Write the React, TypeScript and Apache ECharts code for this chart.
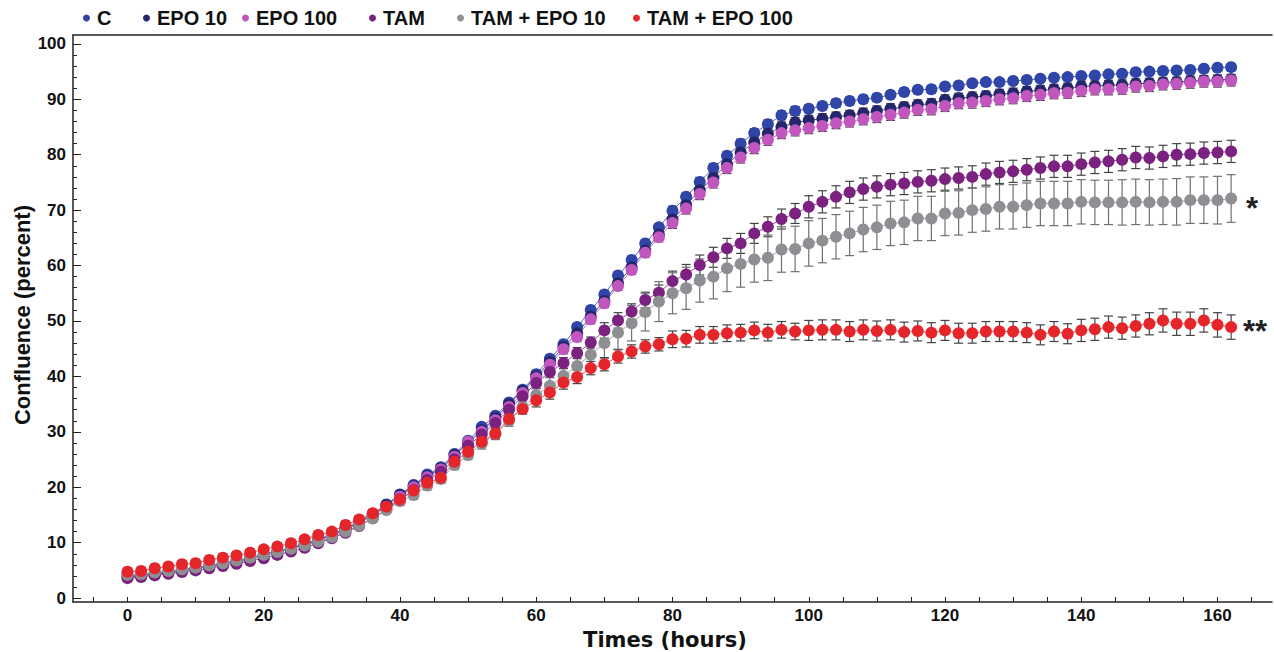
import React, { useEffect, useRef } from 'react';
import * as echarts from 'echarts';

const TIMES = [
  0, 2, 4, 6, 8, 10, 12, 14, 16, 18,
  20, 22, 24, 26, 28, 30, 32, 34, 36, 38,
  40, 42, 44, 46, 48, 50, 52, 54, 56, 58,
  60, 62, 64, 66, 68, 70, 72, 74, 76, 78,
  80, 82, 84, 86, 88, 90, 92, 94, 96, 98,
  100, 102, 104, 106, 108, 110, 112, 114, 116, 118,
  120, 122, 124, 126, 128, 130, 132, 134, 136, 138,
  140, 142, 144, 146, 148, 150, 152, 154, 156, 158,
  160, 162,
];

const C_VALUES = [
  4.0, 4.2, 4.5, 4.8, 5.1, 5.5, 5.9, 6.3, 6.8, 7.3,
  7.9, 8.5, 9.1, 9.8, 10.6, 11.5, 12.6, 13.8, 15.2, 16.9,
  18.7, 20.4, 22.3, 23.6, 26.0, 28.4, 30.9, 32.9, 35.3, 37.6,
  40.4, 43.2, 45.8, 48.9, 52.0, 54.8, 58.2, 61.0, 64.0, 66.9,
  69.9, 72.4, 75.1, 77.6, 79.8, 82.0, 83.9, 85.5, 87.1, 87.9,
  88.3, 88.8, 89.3, 89.7, 90.0, 90.3, 90.8, 91.3, 91.7, 91.8,
  92.3, 92.5, 92.9, 93.1, 93.1, 93.3, 93.5, 93.7, 93.9, 94.0,
  94.2, 94.3, 94.5, 94.6, 94.9, 95.0, 95.1, 95.2, 95.3, 95.5,
  95.7, 95.8,
];
const C_ERR = [
  0.4, 0.4, 0.4, 0.4, 0.4, 0.4, 0.4, 0.4, 0.4, 0.4,
  0.5, 0.5, 0.5, 0.5, 0.5, 0.5, 0.5, 0.5, 0.5, 0.5,
  0.6, 0.6, 0.6, 0.6, 0.6, 0.6, 0.6, 0.6, 0.6, 0.6,
  0.7, 0.7, 0.7, 0.7, 0.7, 0.7, 0.7, 0.7, 0.7, 0.7,
  0.8, 0.8, 0.8, 0.8, 0.8, 0.8, 0.8, 0.8, 0.8, 0.8,
  0.7, 0.7, 0.7, 0.7, 0.7, 0.7, 0.7, 0.7, 0.7, 0.7,
  0.6, 0.6, 0.6, 0.6, 0.6, 0.6, 0.6, 0.6, 0.6, 0.6,
  0.6, 0.6, 0.6, 0.6, 0.6, 0.6, 0.6, 0.6, 0.6, 0.6,
  0.6, 0.6,
];

const EPO10_VALUES = [
  3.8, 4.0, 4.3, 4.6, 4.9, 5.3, 5.7, 6.1, 6.6, 7.1,
  7.7, 8.3, 8.9, 9.7, 10.5, 11.4, 12.5, 13.7, 15.1, 16.8,
  18.6, 20.2, 22.0, 23.4, 25.8, 28.0, 30.3, 32.5, 35.0, 37.4,
  40.0, 42.6, 45.3, 47.8, 50.8, 53.6, 56.8, 59.7, 62.7, 65.6,
  68.3, 70.9, 73.6, 75.8, 78.3, 80.4, 82.2, 83.8, 85.0, 85.8,
  86.2, 86.5, 86.8, 87.1, 87.5, 87.9, 88.3, 88.6, 89.0, 89.2,
  89.9, 90.2, 90.4, 90.6, 90.9, 91.1, 91.4, 91.6, 91.8, 92.0,
  92.3, 92.4, 92.5, 92.6, 92.8, 92.9, 93.0, 93.1, 93.3, 93.4,
  93.5, 93.6,
];
const EPO10_ERR = [
  0.5, 0.5, 0.5, 0.5, 0.5, 0.5, 0.5, 0.5, 0.5, 0.5,
  0.5, 0.5, 0.5, 0.5, 0.5, 0.5, 0.5, 0.5, 0.5, 0.5,
  0.6, 0.6, 0.6, 0.6, 0.6, 0.6, 0.6, 0.6, 0.6, 0.6,
  0.8, 0.8, 0.8, 0.8, 0.8, 0.8, 0.8, 0.8, 0.8, 0.8,
  0.9, 0.9, 0.9, 0.9, 0.9, 0.9, 0.9, 0.9, 0.9, 0.9,
  0.9, 0.9, 0.9, 0.9, 0.9, 0.9, 0.9, 0.9, 0.9, 0.9,
  0.9, 0.9, 0.9, 0.9, 0.9, 0.9, 0.9, 0.9, 0.9, 0.9,
  0.9, 0.9, 0.9, 0.9, 0.9, 0.9, 0.9, 0.9, 0.9, 0.9,
  0.9, 0.9,
];

const EPO100_VALUES = [
  3.9, 4.1, 4.4, 4.7, 5.0, 5.4, 5.8, 6.2, 6.6, 7.1,
  7.7, 8.3, 8.9, 9.6, 10.4, 11.3, 12.3, 13.5, 14.9, 16.5,
  18.3, 20.0, 21.8, 23.2, 25.5, 28.2, 30.0, 32.1, 34.5, 37.0,
  39.7, 42.1, 44.9, 47.1, 50.3, 53.2, 56.3, 59.2, 62.3, 65.1,
  67.7, 70.3, 72.9, 75.0, 77.6, 79.5, 81.2, 82.7, 83.9, 84.4,
  84.8, 85.2, 85.7, 86.0, 86.4, 86.8, 87.2, 87.6, 88.1, 88.2,
  88.8, 89.3, 89.4, 89.7, 90.0, 90.2, 90.6, 90.8, 91.1, 91.2,
  91.5, 91.8, 91.8, 91.9, 92.3, 92.4, 92.7, 92.8, 93.0, 93.2,
  93.2, 93.4,
];
const EPO100_ERR = [
  0.5, 0.5, 0.5, 0.5, 0.5, 0.5, 0.5, 0.5, 0.5, 0.5,
  0.5, 0.5, 0.5, 0.5, 0.5, 0.5, 0.5, 0.5, 0.5, 0.5,
  0.6, 0.6, 0.6, 0.6, 0.6, 0.6, 0.6, 0.6, 0.6, 0.6,
  0.8, 0.8, 0.8, 0.8, 0.8, 0.8, 0.8, 0.8, 0.8, 0.8,
  1.0, 1.0, 1.0, 1.0, 1.0, 1.0, 1.0, 1.0, 1.0, 1.0,
  1.0, 1.0, 1.0, 1.0, 1.0, 1.0, 1.0, 1.0, 1.0, 1.0,
  1.0, 1.0, 1.0, 1.0, 1.0, 1.0, 1.0, 1.0, 1.0, 1.0,
  1.0, 1.0, 1.0, 1.0, 1.0, 1.0, 1.0, 1.0, 1.0, 1.0,
  1.0, 1.0,
];

const TAM_VALUES = [
  3.6, 3.8, 4.1, 4.4, 4.7, 5.0, 5.4, 5.8, 6.2, 6.7,
  7.2, 7.8, 8.4, 9.1, 9.9, 10.8, 11.8, 13.0, 14.4, 16.0,
  17.8, 19.5, 21.3, 22.8, 25.0, 27.5, 29.5, 31.6, 34.0, 36.4,
  38.8, 40.8, 42.4, 44.2, 46.1, 48.3, 50.1, 51.7, 53.8, 55.1,
  57.2, 58.4, 60.1, 61.5, 63.1, 64.0, 65.8, 67.0, 68.4, 69.4,
  70.6, 71.5, 72.4, 73.2, 73.8, 74.2, 74.6, 74.8, 75.1, 75.3,
  75.6, 75.8, 76.0, 76.5, 76.8, 77.0, 77.3, 77.6, 77.9, 77.9,
  78.3, 78.6, 78.8, 79.1, 79.5, 79.4, 79.7, 80.0, 80.1, 80.3,
  80.4, 80.6,
];
const TAM_ERR = [
  0.5, 0.5, 0.5, 0.5, 0.5, 0.5, 0.5, 0.5, 0.5, 0.5,
  0.5, 0.5, 0.5, 0.5, 0.5, 0.5, 0.5, 0.5, 0.5, 0.5,
  0.7, 0.7, 0.7, 0.7, 0.7, 0.7, 0.7, 0.7, 0.7, 0.7,
  1.0, 1.0, 1.0, 1.0, 1.0, 1.4, 1.4, 1.4, 1.4, 1.4,
  1.8, 1.8, 1.8, 1.8, 1.8, 1.8, 1.8, 1.8, 1.8, 1.8,
  2.0, 2.0, 2.0, 2.0, 2.0, 2.0, 2.0, 2.0, 2.0, 2.0,
  2.0, 2.0, 2.0, 2.0, 2.0, 2.0, 2.0, 2.0, 2.0, 2.0,
  2.0, 2.0, 2.0, 2.0, 2.0, 2.0, 2.0, 2.0, 2.0, 2.0,
  2.0, 2.0,
];

const TAM_EPO10_VALUES = [
  4.2, 4.3, 4.6, 4.9, 5.2, 5.5, 5.9, 6.3, 6.8, 7.3,
  7.8, 8.3, 8.9, 9.5, 10.2, 11.0, 12.0, 13.1, 14.4, 15.9,
  17.5, 18.6, 20.3, 21.5, 24.0, 25.8, 27.9, 29.6, 32.0, 34.4,
  36.6, 38.3, 40.1, 41.9, 43.9, 46.0, 47.9, 49.6, 51.6, 53.5,
  55.0, 55.9, 57.3, 58.0, 59.5, 60.3, 61.1, 61.4, 62.9, 63.0,
  64.0, 64.5, 65.2, 65.8, 66.5, 66.9, 67.6, 67.8, 68.5, 68.5,
  69.4, 69.5, 70.0, 70.2, 70.6, 70.6, 70.9, 71.2, 71.2, 71.2,
  71.5, 71.4, 71.4, 71.4, 71.5, 71.4, 71.5, 71.5, 71.8, 71.8,
  71.8, 72.1,
];
const TAM_EPO10_ERR = [
  0.6, 0.6, 0.6, 0.6, 0.6, 0.6, 0.6, 0.6, 0.6, 0.6,
  0.6, 0.6, 0.6, 0.6, 0.6, 0.6, 0.6, 0.6, 0.6, 0.6,
  0.8, 0.8, 0.8, 0.8, 0.8, 0.8, 1.0, 1.0, 1.0, 1.0,
  1.2, 1.5, 1.8, 2.1, 2.4, 2.7, 3.0, 3.2, 3.4, 3.6,
  3.7, 3.8, 3.9, 4.0, 4.2, 4.2, 4.1, 4.1, 4.1, 4.1,
  4.1, 4.0, 4.0, 4.0, 4.0, 4.0, 4.0, 4.0, 4.0, 4.0,
  4.0, 4.0, 4.0, 4.0, 4.0, 4.0, 4.0, 4.0, 4.0, 4.0,
  4.0, 4.0, 4.0, 4.1, 4.1, 4.1, 4.1, 4.2, 4.2, 4.2,
  4.3, 4.3,
];

const TAM_EPO100_VALUES = [
  4.75, 4.9, 5.4, 5.7, 6.1, 6.3, 6.9, 7.3, 7.7, 8.2,
  8.8, 9.3, 9.9, 10.6, 11.4, 12.0, 13.2, 14.2, 15.3, 16.5,
  17.8, 19.4, 20.8, 21.7, 24.6, 26.4, 28.2, 29.7, 32.3, 34.1,
  35.7, 37.1, 38.9, 39.9, 41.5, 42.2, 43.6, 44.5, 45.4, 45.8,
  46.7, 46.8, 47.5, 47.5, 47.8, 47.9, 48.3, 47.9, 48.4, 48.1,
  48.3, 48.4, 48.4, 48.1, 48.4, 48.2, 48.4, 48.0, 48.2, 47.9,
  48.3, 47.8, 47.8, 48.1, 48.1, 48.1, 47.9, 47.5, 48.1, 47.7,
  48.3, 48.5, 48.9, 48.7, 49.1, 49.5, 50.1, 49.5, 49.5, 50.1,
  49.3, 48.9,
];
const TAM_EPO100_ERR = [
  0.7, 0.7, 0.7, 0.7, 0.7, 0.7, 0.7, 0.7, 0.7, 0.7,
  0.7, 0.7, 0.7, 0.7, 0.7, 0.7, 0.7, 0.7, 0.7, 0.7,
  0.9, 0.9, 0.9, 0.9, 0.9, 0.9, 0.9, 0.9, 0.9, 0.9,
  1.2, 1.2, 1.2, 1.2, 1.2, 1.2, 1.2, 1.2, 1.2, 1.2,
  1.5, 1.5, 1.5, 1.5, 1.5, 1.5, 1.5, 1.5, 1.5, 1.5,
  1.8, 1.8, 1.8, 1.8, 1.8, 1.8, 1.8, 1.8, 1.8, 1.8,
  1.8, 1.8, 1.8, 1.8, 1.8, 1.8, 1.8, 1.8, 1.8, 1.8,
  2.0, 2.0, 2.0, 2.0, 2.0, 2.0, 2.1, 2.1, 2.1, 2.1,
  2.2, 2.2,
];

const SERIES_NAMES = ['C', 'EPO 10', 'EPO 100', 'TAM', 'TAM + EPO 10', 'TAM + EPO 100'];
const SERIES_VALUES = [C_VALUES, EPO10_VALUES, EPO100_VALUES, TAM_VALUES, TAM_EPO10_VALUES, TAM_EPO100_VALUES];
const SERIES_ERRORS = [C_ERR, EPO10_ERR, EPO100_ERR, TAM_ERR, TAM_EPO10_ERR, TAM_EPO100_ERR];

const X_TICKS = [-5, 0, 5, 10, 15, 20, 25, 30, 35, 40, 45, 50, 55, 60, 65, 70, 75, 80, 85, 90, 95, 100, 105, 110, 115, 120, 125, 130, 135, 140, 145, 150, 155, 160, 165];
const X_LABELS = [0, 20, 40, 60, 80, 100, 120, 140, 160];
const Y_MAJOR = [0, 10, 20, 30, 40, 50, 60, 70, 80, 90, 100];
const Y_MINOR = [0, 2, 4, 6, 8, 10, 12, 14, 16, 18, 20, 22, 24, 26, 28, 30, 32, 34, 36, 38, 40, 42, 44, 46, 48, 50, 52, 54, 56, 58, 60, 62, 64, 66, 68, 70, 72, 74, 76, 78, 80, 82, 84, 86, 88, 90, 92, 94, 96, 98, 100];
const X_TITLE = 'Times (hours)';
const Y_TITLE = 'Confluence (percent)';

// styling / layout
const COLORS = ['#2f45a8', '#24256b', '#c157be', '#7b2281', '#8e8f93', '#e4262b'];
const ERR_COLORS = ['#444', '#444', '#444', '#444', '#6f7073', '#444'];
const LEGEND_LEFT = [78, 138, 237, 364, 452, 628];
const FONT = '"Liberation Sans", Arial, Helvetica, sans-serif';
const WIDE_FONT = '"DejaVu Sans", "Liberation Sans", sans-serif';

export default function App() {
  const ref = useRef<HTMLDivElement>(null);

  useEffect(() => {
    document.body.style.margin = '0';
    if (!ref.current) return;
    const chart = echarts.init(ref.current, undefined, { renderer: 'svg' });

    const series: any[] = [];
    SERIES_NAMES.forEach((name, si) => {
      const vals = SERIES_VALUES[si];
      const errs = SERIES_ERRORS[si];
      const ec = ERR_COLORS[si];
      series.push({
        type: 'custom',
        name: name + ' SD',
        silent: true,
        encode: { x: 0, y: [1, 2] },
        data: TIMES.map((t, i) => [t, vals[i] - errs[i], vals[i] + errs[i]]),
        renderItem: (params: any, api: any) => {
          const x = api.value(0);
          const lo = api.coord([x, api.value(1)]);
          const hi = api.coord([x, api.value(2)]);
          const w = 4.5;
          const st = { stroke: ec, lineWidth: 1.2 };
          return {
            type: 'group',
            children: [
              { type: 'line', shape: { x1: lo[0], y1: lo[1], x2: hi[0], y2: hi[1] }, style: st },
              { type: 'line', shape: { x1: lo[0] - w, y1: lo[1], x2: lo[0] + w, y2: lo[1] }, style: st },
              { type: 'line', shape: { x1: hi[0] - w, y1: hi[1], x2: hi[0] + w, y2: hi[1] }, style: st },
            ],
          };
        },
      });
      series.push({
        type: 'line',
        name,
        data: TIMES.map((t, i) => [t, vals[i]]),
        symbol: 'circle',
        symbolSize: 12,
        showSymbol: true,
        itemStyle: { color: COLORS[si] },
        lineStyle: { color: COLORS[si], width: 1, opacity: 0.8 },
      });
    });

    const legends = SERIES_NAMES.map((name, i) => ({
      data: [name],
      left: LEGEND_LEFT[i],
      top: 3,
      icon: 'circle',
      itemWidth: 7,
      itemHeight: 7,
      itemGap: 0,
      selectedMode: false,
      textStyle: { fontSize: 20, fontWeight: 'bold', color: '#111', fontFamily: FONT, padding: [0, 0, 0, 2] },
    }));

    const axisLineStyle = { color: '#222', width: 1.5 };

    chart.setOption({
      animation: false,
      backgroundColor: '#fff',
      legend: legends,
      grid: { left: 73, right: 2, top: 35, bottom: 50, containLabel: false, outerBoundsMode: 'none' },
      xAxis: [
        {
          type: 'value',
          min: -8,
          max: 168,
          axisLine: { show: true, onZero: false, lineStyle: axisLineStyle },
          axisTick: { show: true, inside: true, length: 5, customValues: X_TICKS, lineStyle: { color: '#222', width: 1 } },
          axisLabel: { show: true, customValues: X_LABELS, fontSize: 17, fontWeight: 'bold', color: '#111', margin: 5, lineHeight: 17, fontFamily: FONT },
          splitLine: { show: false },
        },
        {
          type: 'value',
          position: 'top',
          min: -8,
          max: 168,
          axisLine: { show: true, onZero: false, lineStyle: axisLineStyle },
          axisTick: { show: false },
          axisLabel: { show: false },
          splitLine: { show: false },
        },
      ],
      yAxis: [
        {
          type: 'value',
          position: 'left',
          min: -0.7,
          max: 101.6,
          axisLine: { show: true, onZero: false, lineStyle: axisLineStyle },
          axisTick: { show: true, inside: true, length: 8, customValues: Y_MAJOR, lineStyle: { color: '#222', width: 1 } },
          axisLabel: { show: true, customValues: Y_MAJOR, fontSize: 17, fontWeight: 'bold', color: '#111', margin: 7, fontFamily: FONT },
          splitLine: { show: false },
        },
        {
          type: 'value',
          position: 'left',
          min: -0.7,
          max: 101.6,
          axisLine: { show: false, onZero: false },
          axisTick: { show: true, inside: true, length: 4, customValues: Y_MINOR, lineStyle: { color: '#222', width: 1 } },
          axisLabel: { show: false },
          splitLine: { show: false },
        },
      ],
      graphic: [
        {
          type: 'text', x: 665, y: 639.5,
          style: { text: X_TITLE, align: 'center', verticalAlign: 'middle', fontSize: 21, lineHeight: 22, fontWeight: 'bold', fill: '#111', fontFamily: WIDE_FONT },
        },
        {
          type: 'text', x: 22, y: 315, rotation: Math.PI / 2,
          style: { text: Y_TITLE, align: 'center', verticalAlign: 'middle', fontSize: 22, fontWeight: 'bold', fill: '#111', fontFamily: FONT },
        },
        { type: 'text', left: 1246, top: 193, style: { text: '*', fontSize: 31, fontWeight: 'bold', fill: '#222', fontFamily: FONT } },
        { type: 'text', left: 1243, top: 316, style: { text: '**', fontSize: 31, fontWeight: 'bold', fill: '#222', fontFamily: FONT } },
      ],
      series,
    });

    return () => chart.dispose();
  }, []);

  return <div ref={ref} style={{ width: 1274, height: 652 }} />;
}
